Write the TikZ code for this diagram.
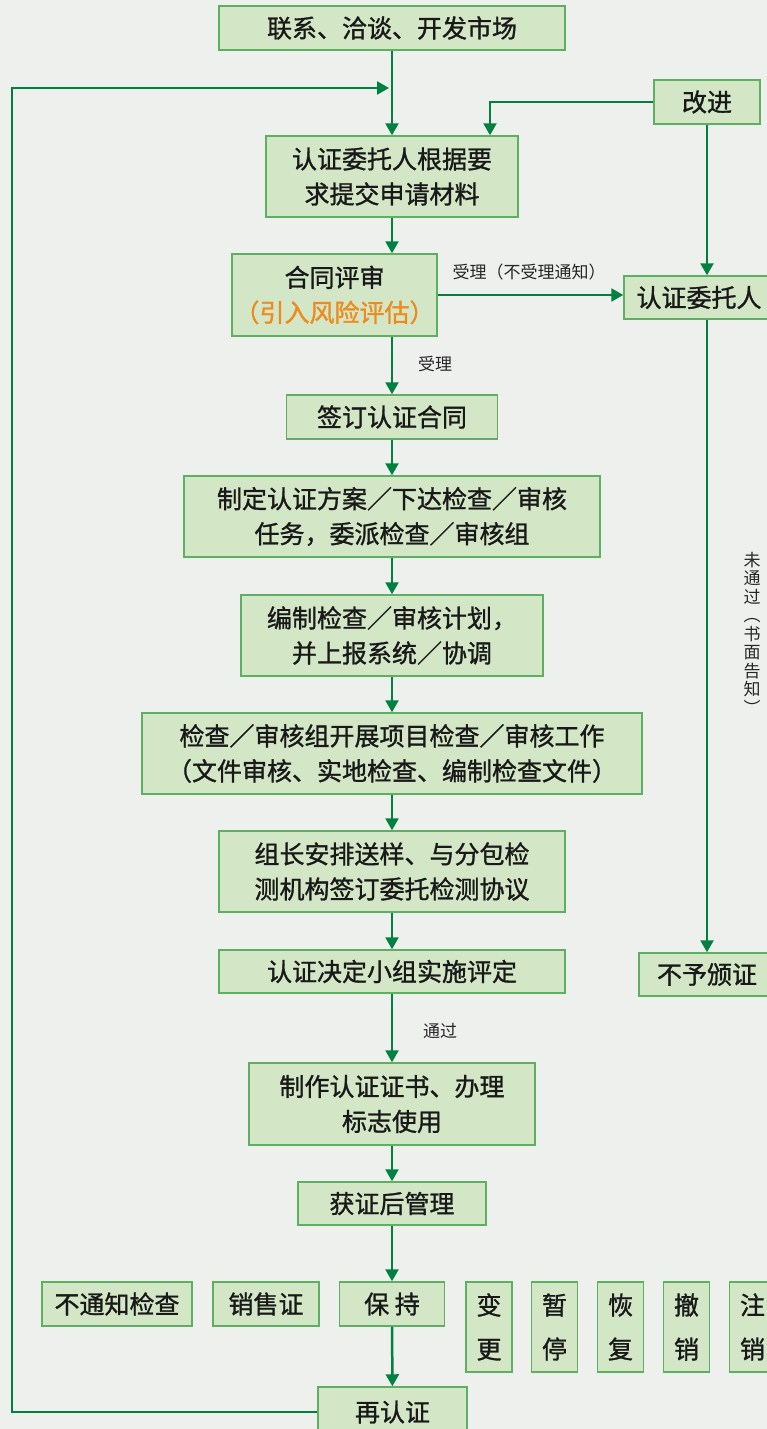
\documentclass[tikz,border=0pt]{standalone}
\usepackage{fontspec}
\setmainfont{Noto Sans CJK SC}
\newfontfamily\boxfont{Noto Sans CJK SC}[FakeBold=1.2]
\usetikzlibrary{arrows.meta}
\definecolor{bgray}{HTML}{EEF0EE}
\definecolor{boxfill}{HTML}{D3E6C6}
\definecolor{boxline}{HTML}{5DB061}
\definecolor{flowgreen}{HTML}{00813F}
\definecolor{riskorange}{HTML}{EE8A1E}
\begin{document}
\begin{tikzpicture}[x=1pt,y=-1pt,
  box/.style={draw=boxline,fill=boxfill,line width=1.5pt,inner sep=0pt,align=center,
    text=black!90,font=\boxfont\fontsize{25}{35}\selectfont},
  tallbox/.style={box,minimum width=46pt,minimum height=90pt,font=\boxfont\fontsize{25}{44}\selectfont},
  flow/.style={draw=flowgreen,line width=2.5pt,-{Triangle[length=12pt,width=13pt]}},
  note/.style={inner sep=0pt,text=black!85,font=\fontsize{17}{18.5}\selectfont}]

  \useasboundingbox (0,0) rectangle (767,1429);
  \fill[bgray] (0,0) rectangle (767,1429);

  \node [box,minimum width=346pt,minimum height=44pt] (market) at (392,28) {联系、洽谈、开发市场};
  \node [box,minimum width=106pt,minimum height=44pt] (improve) at (707,102) {改进};
  \node [box,minimum width=252pt,minimum height=81pt] (apply) at (392,176.5) {认证委托人根据要\\求提交申请材料};
  \node [box,minimum width=205pt,minimum height=82pt] (review) at (334.5,295) {合同评审\\\textcolor{riskorange}{（引入风险评估）}};
  \node [box,minimum width=150pt,minimum height=43pt] (client) at (699,297.5) {认证委托人};
  \node [box,minimum width=211pt,minimum height=44pt] (contract) at (392,417) {签订认证合同};
  \node [box,minimum width=416pt,minimum height=81pt] (plan) at (392,516.5) {制定认证方案／下达检查／审核\\任务，委派检查／审核组};
  \node [box,minimum width=302pt,minimum height=81pt] (schedule) at (392,635.5) {编制检查／审核计划，\\并上报系统／协调};
  \node [box,minimum width=500pt,minimum height=81pt] (audit) at (392,753.5) {检查／审核组开展项目检查／审核工作\\（文件审核、实地检查、编制检查文件）};
  \node [box,minimum width=346pt,minimum height=81pt] (sample) at (392,871.5) {组长安排送样、与分包检\\测机构签订委托检测协议};
  \node [box,minimum width=346pt,minimum height=43pt] (decide) at (392,971.5) {认证决定小组实施评定};
  \node [box,minimum width=136pt,minimum height=43pt] (refuse) at (707,974.5) {不予颁证};
  \node [box,minimum width=286pt,minimum height=82pt] (cert) at (392,1104) {制作认证证书、办理\\标志使用};
  \node [box,minimum width=188pt,minimum height=43pt] (manage) at (392,1203.5) {获证后管理};

  % after-certification row
  \node [box,minimum width=150pt,minimum height=44pt] (nonotice) at (117,1304) {不通知检查};
  \node [box,minimum width=106pt,minimum height=44pt] (sales) at (266,1304) {销售证};
  \node [box,minimum width=105pt,minimum height=44pt] (keep) at (392,1304) {保\ 持};
  \node [tallbox] (change) at (489,1327) {变\\更};
  \node [tallbox] (suspend) at (554.5,1327) {暂\\停};
  \node [tallbox] (restore) at (620.5,1327) {恢\\复};
  \node [tallbox] (revoke) at (686.5,1327) {撤\\销};
  \node [tallbox] (cancel) at (752.5,1327) {注\\销};
  \node [box,minimum width=149pt,minimum height=50pt] (recert) at (392.5,1412) {再认证};

  \coordinate (looptop) at (12,88);
  \coordinate (loopend) at (389,88);

  \draw [flow] (market) -- (apply);
  \draw [flow] (improve.west) -| ([xshift=98pt]apply.north);
  \draw [flow] (apply.south) -- (apply.south |- review.north);
  \draw [flow] (improve.south) -- (improve.south |- client.north);
  \draw [flow] (review.east) -- (review.east -| client.west);
  \node [note] (acceptnote) at (529,272) {受理（不受理通知）};
  \draw [flow] (review.south -| contract.north) -- (contract.north);
  \node [note] (acceptonly) at (435,364) {受理};
  \draw [flow] (contract) -- (plan);
  \draw [flow] (plan) -- (schedule);
  \draw [flow] (schedule) -- (audit);
  \draw [flow] (audit) -- (sample);
  \draw [flow] (sample) -- (decide);
  \draw [flow] (client.south -| refuse.north) -- (refuse.north);
  \node [note,align=center] (failnote) at (752,633) {未\\通\\过\\︵\\书\\面\\告\\知\\︶};
  \draw [flow] (decide) -- (cert);
  \node [note] (passnote) at (440,1031) {通过};
  \draw [flow] (cert) -- (manage);
  \draw [flow] (manage) -- (keep);
  \draw [flow] (keep) -- (recert);
  \draw [flow] (recert.west) -| (looptop) -- (loopend);
\end{tikzpicture}
\end{document}
